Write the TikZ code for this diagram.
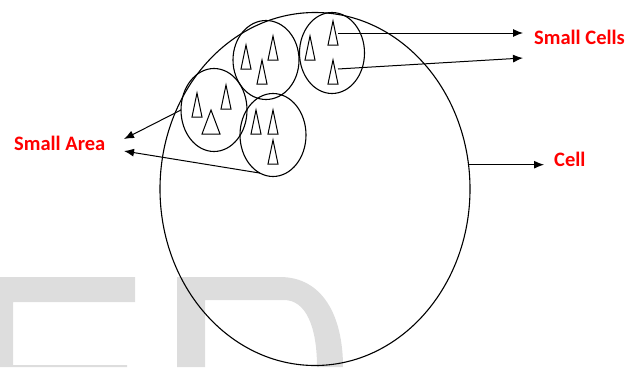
\documentclass[tikz,border=0pt]{standalone}
\usepackage{fontspec}
\usepackage{xcolor}
\usepackage{tikz}
\usetikzlibrary{shapes,arrows.meta,positioning}
\newfontfamily\tagfont{Carlito}
\definecolor{wmark}{HTML}{DDDDDD}
\tikzset{
  region/.style={
    ellipse,
    draw=black,
    line width=1.1pt,
    inner sep=0pt,
    outer sep=0pt
  },
  cone/.style={
    draw=black,
    line width=1pt,
    line join=miter
  },
  arrow/.style={
    -{Latex[length=10pt,width=8pt]},
    line width=1pt
  },
  tag/.style={
    text=red,
    font=\tagfont\bfseries\fontsize{20.5}{20.5}\selectfont,
    inner sep=0pt,
    anchor=west
  }
}

\begin{document}
\begin{tikzpicture}[x=1pt,y=-1pt]
\useasboundingbox (0,0) rectangle (639,367);

% faint letters at the bottom
\fill[wmark] (0,367) -- (0,277) -- (135,277) -- (135,302) -- (13,302) -- (13,365) -- (127,365) -- (127,367) -- cycle;
\fill[wmark] (177,367) -- (177,277) -- (280,277) .. controls (322,277) and (343,315) .. (343,367) -- (317,367) .. controls (317,327) and (306,300) .. (284,300) -- (205,300) -- (205,367) -- cycle;

\node[region, minimum width=310pt, minimum height=353pt] (cell) at (315,189) {};

\node[region, minimum width=66pt, minimum height=79pt] (a) at (266,60) {};
\node[region, minimum width=65pt, minimum height=81pt] (b) at (332,53) {};
\node[region, minimum width=66pt, minimum height=83pt] (c) at (214,110) {};
\node[region, minimum width=66pt, minimum height=83pt] (d) at (273,135) {};

% little cells
\foreach \n/\x/\y/\w in {a1/246/57/5, a2/273/48/5, a3/262/72/5,
                         b1/310/48/5, b2/333/33/5, b3/333/72/5,
                         c1/197/105/5, c2/226/97/5, c3/211/122/9,
                         d1/256/122/5, d2/273/122/5, d3/273/152/5} {
  \draw[cone] (\x-\w,\y+12) -- (\x,\y-12) -- (\x+\w,\y+12) -- cycle;
  \coordinate (\n) at (\x,\y);
}

\node[tag] (smallcells) at (534,37) {Small Cells};
\node[tag] (smallarea) at (14,143) {Small Area};
\node[tag] (celltext) at (554,159) {Cell};

\coordinate (saup) at (124,139);
\coordinate (salow) at (124,151);
\coordinate (cellend) at (544,164);

\draw[arrow] ([xshift=5pt]b2) -- ([xshift=-11pt]smallcells.west |- b2);
\draw[arrow] ([xshift=5pt,yshift=3pt]b3) -- ([xshift=-11pt,yshift=-21pt]smallcells.west);
\draw[arrow] (c.west) -- (saup);
\draw[arrow] (d.251) -- (salow);
\draw[arrow] (cell.9) -- (cell.9 -| cellend);

\end{tikzpicture}
\end{document}
